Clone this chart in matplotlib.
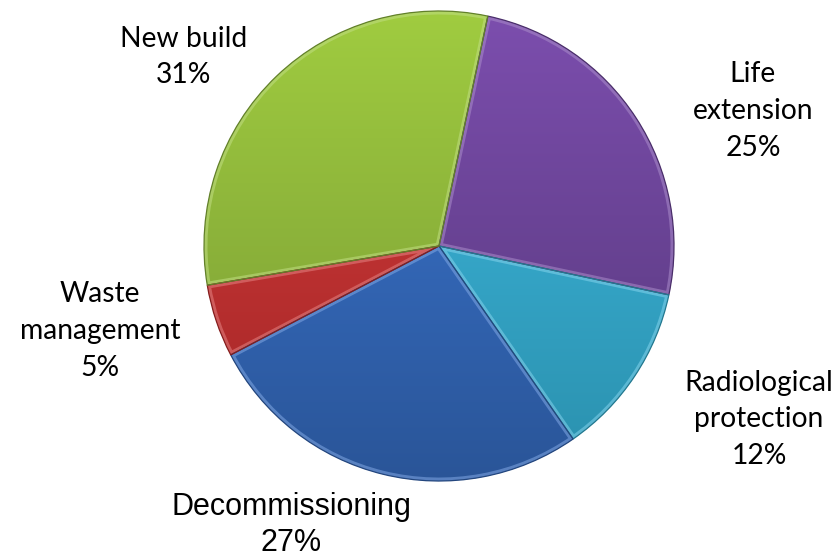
import numpy as np
import matplotlib
matplotlib.use("Agg")
import matplotlib.pyplot as plt
from matplotlib.colors import LinearSegmentedColormap, to_rgb
from matplotlib.patches import Wedge

categories = ["Life\nextension", "Radiological\nprotection", "Decommissioning",
              "Waste\nmanagement", "New build"]
shares = [25, 12, 27, 5, 31]
top_colors = ["#7c4eae", "#40bbe2", "#3c78d4", "#d63e3e", "#a0cc40"]
bottom_colors = ["#553779", "#2a90ad", "#2a5598", "#a32525", "#779834"]
edge_colors = ["#4a2e6a", "#23788f", "#23467e", "#851d1d", "#62802a"]

W, H = 839, 557
fig = plt.figure(figsize=(W / 100, H / 100), dpi=100)
ax = fig.add_axes([0, 0, 1, 1])

cx, cy, r = 439, H - 246, 235
wedges, _ = ax.pie(shares, startangle=78, counterclock=False,
                   center=(cx, cy), radius=r, frame=True,
                   wedgeprops=dict(linewidth=0.9))
ax.set_xlim(0, W)
ax.set_ylim(0, H)
ax.set_aspect("equal")
ax.axis("off")


def lighten(c, f):
    rgb = np.array(to_rgb(c))
    return tuple(rgb + (1 - rgb) * f)


grad = np.linspace(0, 1, 256).reshape(-1, 1)
for w, c0, c1, ec in zip(wedges, top_colors, bottom_colors, edge_colors):
    w.set_facecolor("none")
    w.set_edgecolor(ec)
    w.set_zorder(4)
    cmap = LinearSegmentedColormap.from_list("g", [c0, c1])
    im = ax.imshow(grad, cmap=cmap, extent=(cx - r, cx + r, cy - r, cy + r),
                   origin="upper", aspect="auto", zorder=2, interpolation="bilinear")
    im.set_clip_path(w)
    # soft bevel highlight along the inside of each slice outline
    rim = Wedge(w.center, w.r, w.theta1, w.theta2, facecolor="none",
                edgecolor=lighten(c0, 0.35), linewidth=5, alpha=0.55, zorder=3)
    ax.add_patch(rim)
    rim.set_clip_path(w)

# slice labels
label_pos = [(753, 111), (759, 419), (291, 525), (100, 331), (184, 57)]
for name, val, (lx, ly) in zip(categories, shares, label_pos):
    txt = f"{name}\n{val}%"
    if name == "Decommissioning":
        ax.text(lx, H - ly, txt, ha="center", va="center", fontsize=22,
                family="Liberation Sans", linespacing=1.22, color="black")
    else:
        ax.text(lx, H - ly, txt, ha="center", va="center", fontsize=20.3,
                family="Lato", linespacing=1.5, color="black")

fig.savefig("out.png", dpi=100)
